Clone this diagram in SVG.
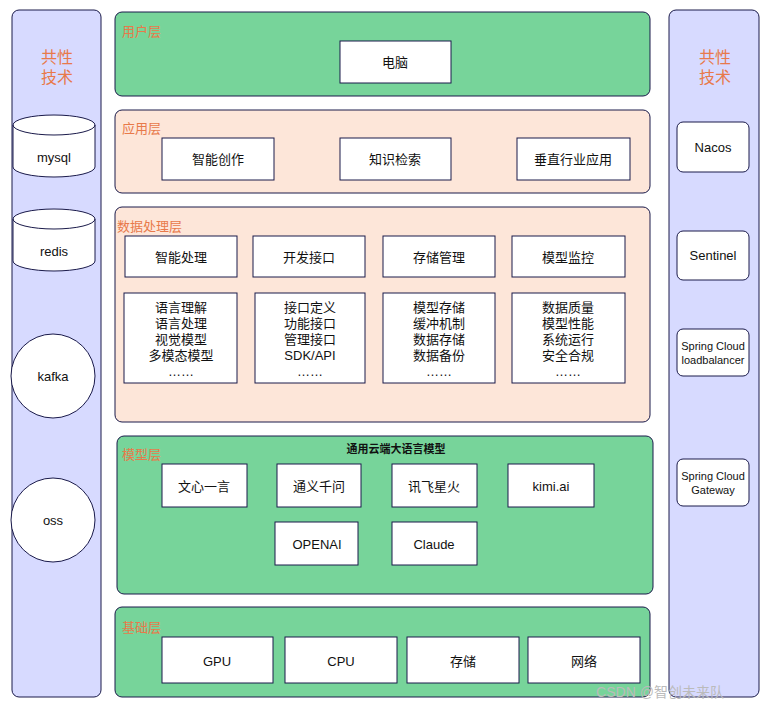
<svg xmlns="http://www.w3.org/2000/svg" width="773" height="712" viewBox="0 0 773 712">
<style>
text{font-family:"Liberation Sans","Noto Sans CJK SC",sans-serif;font-size:13px;fill:#111;text-anchor:middle;dominant-baseline:central}
.side{fill:#d7daff;stroke:#1a1a4a;stroke-width:1}
.g{fill:#77d49a;stroke:#1a1a4a}
.p{fill:#fde6d9;stroke:#1a1a4a}
.b{fill:#fff;stroke:#1a1a4a}
.lab{fill:#e8794a;text-anchor:start;font-size:13px}
.big{fill:#e8794a;font-size:16px}
</style>
<rect width="773" height="712" fill="#fff"/>
<g id="left"><rect class="side" x="12" y="10" width="89" height="687" rx="7"/>
<text class="big" x="57" y="57">共性</text><text class="big" x="57" y="77">技术</text></g>
<g id="mysql"><path class="b" d="M13,125 A41,10 0 0 1 95,125 V167 A41,10 0 0 1 13,167 Z"/><path d="M13,125 A41,10 0 0 0 95,125" fill="none" stroke="#1a1a4a"/><text x="54" y="157">mysql</text></g>
<g id="redis"><path class="b" d="M13,219 A41,10 0 0 1 95,219 V261 A41,10 0 0 1 13,261 Z"/><path d="M13,219 A41,10 0 0 0 95,219" fill="none" stroke="#1a1a4a"/><text x="54" y="251">redis</text></g>
<g id="kafka"><circle class="b" cx="53" cy="376" r="42"/><text x="53" y="376">kafka</text></g>
<g id="oss"><circle class="b" cx="53" cy="520" r="42"/><text x="53" y="520">oss</text></g>
<g id="right"><rect class="side" x="669" y="10" width="90" height="687" rx="7"/>
<text class="big" x="715" y="57">共性</text><text class="big" x="715" y="77">技术</text></g>
<g id="nacos"><rect class="b" x="677" y="122" width="72" height="50" rx="6"/><text x="713" y="147">Nacos</text></g>
<g id="sentinel"><rect class="b" x="677" y="231" width="72" height="49" rx="6"/><text x="713" y="255">Sentinel</text></g>
<g id="lb"><rect class="b" x="677" y="329" width="72" height="47" rx="6"/><text x="713" y="346" style="font-size:11px">Spring Cloud</text><text x="713" y="360" style="font-size:11px">loadbalancer</text></g>
<g id="gw"><rect class="b" x="677" y="459" width="72" height="47" rx="6"/><text x="713" y="476" style="font-size:11px">Spring Cloud</text><text x="713" y="490" style="font-size:11px">Gateway</text></g>

<g id="user"><rect class="g" x="115" y="12" width="535" height="84" rx="7"/><text class="lab" x="122" y="31">用户层</text>
<rect class="b" x="340" y="41" width="111" height="42"/><text x="395" y="62">电脑</text></g>
<g id="app"><rect class="p" x="115" y="110" width="535" height="83" rx="7"/><text class="lab" x="122" y="128">应用层</text>
<rect class="b" x="162" y="138" width="112" height="42"/><text x="218" y="159">智能创作</text>
<rect class="b" x="340" y="138" width="111" height="42"/><text x="395" y="159">知识检索</text>
<rect class="b" x="517" y="138" width="113" height="42"/><text x="573" y="159">垂直行业应用</text></g>
<g id="data"><rect class="p" x="115" y="207" width="535" height="215" rx="7"/><text class="lab" x="117" y="226">数据处理层</text>
<rect class="b" x="125" y="236" width="112" height="41"/><text x="181" y="257">智能处理</text>
<rect class="b" x="253" y="236" width="112" height="41"/><text x="309" y="257">开发接口</text>
<rect class="b" x="383" y="236" width="112" height="41"/><text x="439" y="257">存储管理</text>
<rect class="b" x="512" y="236" width="113" height="41"/><text x="568" y="257">模型监控</text>
<rect class="b" x="124" y="293" width="113" height="90"/>
<text x="181" y="307">语言理解</text><text x="181" y="323">语言处理</text><text x="181" y="339">视觉模型</text><text x="181" y="355">多模态模型</text><text x="181" y="371">……</text>
<rect class="b" x="255" y="293" width="110" height="90"/>
<text x="310" y="307">接口定义</text><text x="310" y="323">功能接口</text><text x="310" y="339">管理接口</text><text x="310" y="355">SDK/API</text><text x="310" y="371">……</text>
<rect class="b" x="383" y="293" width="112" height="90"/>
<text x="439" y="307">模型存储</text><text x="439" y="323">缓冲机制</text><text x="439" y="339">数据存储</text><text x="439" y="355">数据备份</text><text x="439" y="371">……</text>
<rect class="b" x="512" y="293" width="113" height="90"/>
<text x="568" y="307">数据质量</text><text x="568" y="323">模型性能</text><text x="568" y="339">系统运行</text><text x="568" y="355">安全合规</text><text x="568" y="371">……</text></g>
<g id="model"><rect class="g" x="117" y="436" width="536" height="158" rx="7"/><text class="lab" x="122" y="454">模型层</text>
<text x="396" y="449" style="font-size:11px;font-weight:bold">通用云端大语言模型</text>
<rect class="b" x="162" y="464" width="85" height="43"/><text x="204" y="486">文心一言</text>
<rect class="b" x="277" y="464" width="84" height="43"/><text x="319" y="486">通义千问</text>
<rect class="b" x="392" y="464" width="85" height="43"/><text x="434" y="486">讯飞星火</text>
<rect class="b" x="508" y="464" width="86" height="43"/><text x="551" y="486">kimi.ai</text>
<rect class="b" x="275" y="522" width="83" height="43"/><text x="317" y="544">OPENAI</text>
<rect class="b" x="392" y="522" width="85" height="43"/><text x="434" y="544">Claude</text></g>
<g id="base"><rect class="g" x="115" y="607" width="535" height="90" rx="7"/><text class="lab" x="122" y="627">基础层</text>
<rect class="b" x="162" y="637" width="111" height="46"/><text x="217" y="661">GPU</text>
<rect class="b" x="285" y="637" width="112" height="46"/><text x="341" y="661">CPU</text>
<rect class="b" x="407" y="637" width="112" height="46"/><text x="463" y="661">存储</text>
<rect class="b" x="528" y="637" width="112" height="46"/><text x="584" y="661">网络</text></g>
<g id="connectors"></g>
<text x="660" y="692" style="font-size:14px;fill:#bbb">CSDN @智创未来队</text>
</svg>
